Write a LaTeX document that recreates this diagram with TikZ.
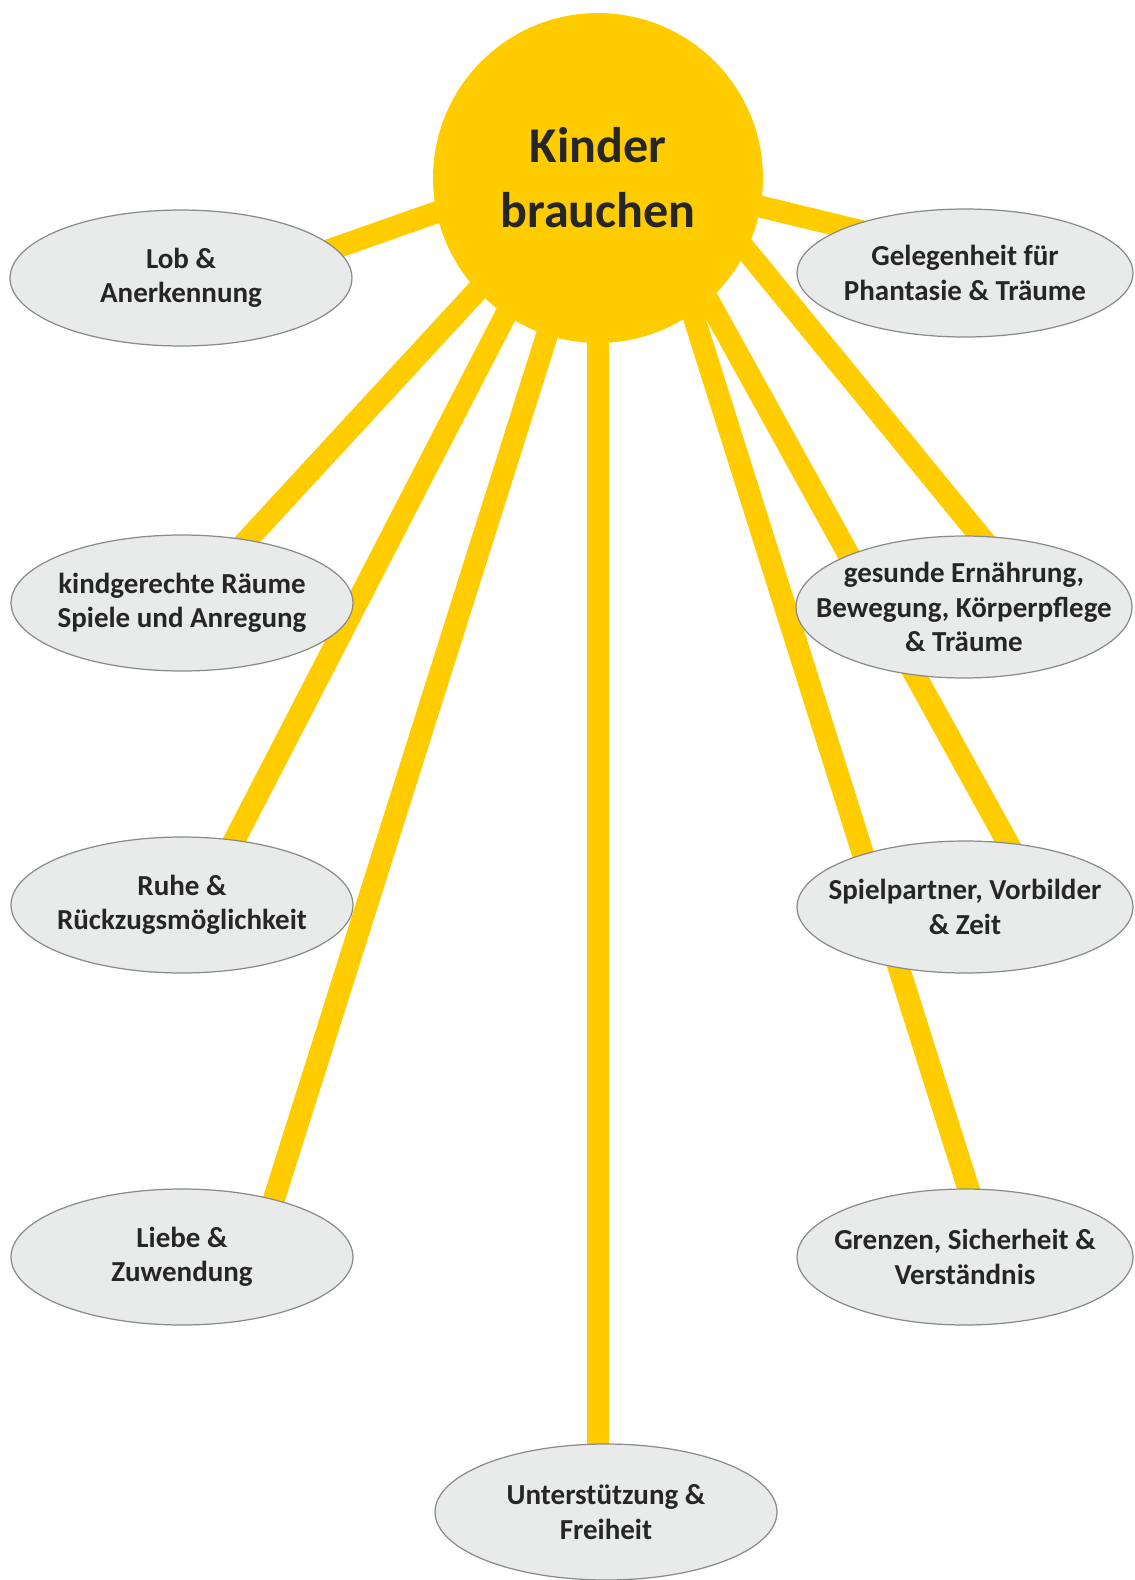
\documentclass[tikz,border=0pt]{standalone}
\usepackage{fontspec}
\setmainfont{Carlito}
\usetikzlibrary{shapes.geometric,backgrounds}

\definecolor{sunyellow}{HTML}{FFCC00}
\definecolor{needgray}{HTML}{E9EAEA}
\definecolor{needline}{HTML}{8A8A8A}
\definecolor{needtext}{HTML}{262626}

\tikzset{
  sunball/.style={shape=circle, fill=sunyellow, minimum size=6.6cm, inner sep=0pt, outer sep=0pt,
    text=needtext, font=\fontsize{28.5}{37}\selectfont\bfseries, align=center},
  need/.style={shape=ellipse, draw=needline, line width=0.7pt, fill=needgray,
    minimum width=6.84cm, minimum height=2.72cm, inner xsep=-40pt, inner ysep=-20pt, outer sep=0pt,
    text=needtext, font=\fontsize{16.5}{19.5}\selectfont\bfseries, align=center},
  sunray/.style={draw=sunyellow, line width=0.44cm, shorten <=-12pt, shorten >=-16pt}
}

\begin{document}
\begin{tikzpicture}[x=0.02cm,y=-0.02cm]
	\useasboundingbox (0,0) rectangle (1134,1580);

	\node[sunball] (sun) at (598,178) {Kinder\\brauchen};

	\node[need] (lob)   at (181,278)  {Lob \&\\Anerkennung};
	\node[need] (kind)  at (182,603)  {kindgerechte Räume\\Spiele und Anregung};
	\node[need] (ruhe)  at (182,905)  {Ruhe \&\\Rückzugsmöglichkeit};
	\node[need] (liebe) at (182,1257) {Liebe \&\\Zuwendung};
	\node[need] (unter) at (606,1512) {Unterstützung \&\\Freiheit};
	\node[need, minimum width=6.72cm, minimum height=2.56cm] (gel)   at (965,273)  {Gelegenheit für\\Phantasie \& Träume};
	\node[need, minimum width=6.72cm, minimum height=2.84cm] (ges)   at (964,607)  {gesunde Ernährung,\\Bewegung, Körperpflege\\\& Träume};
	\node[need, minimum width=6.72cm, minimum height=2.64cm] (spiel) at (965,907)  {Spielpartner, Vorbilder\\\& Zeit};
	\node[need, minimum width=6.72cm] (grenz) at (965,1257) {Grenzen, Sicherheit \&\\Verständnis};

	% rays behind the sun and the ellipses
	\begin{scope}[on background layer]
		\draw[sunray] (sun.192) -- (lob.11);
		\draw[sunray] (sun.350) -- (gel.159);
		\draw[sunray] (sun.223) -- (kind.44);
		\draw[sunray] (sun.236) -- (ruhe.51);
		\draw[sunray] (sun.252) -- (liebe.32);
		\draw[sunray] (sun.south) -- (sun.south |- unter.north);
		\draw[sunray] (sun.305) -- (grenz.87);
		\draw[sunray] (sun.312) -- (spiel.56);
		\draw[sunray] (sun.334) -- (ges.77);
	\end{scope}
\end{tikzpicture}
\end{document}
